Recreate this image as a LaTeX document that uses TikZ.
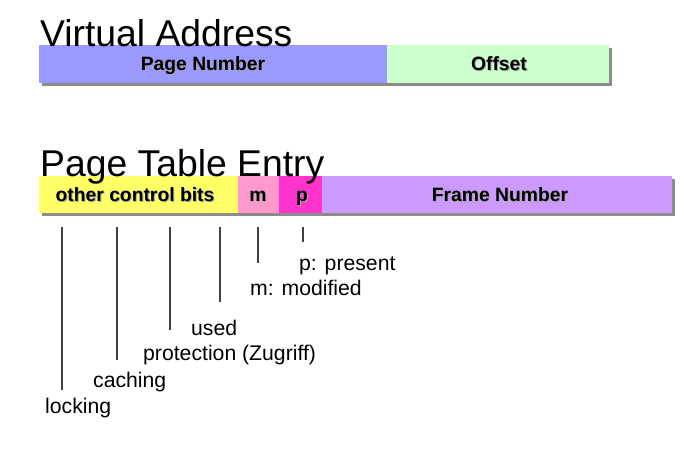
\documentclass[tikz,border=0pt]{standalone}
\usepackage{fontspec}
\setmainfont{Liberation Sans}
\definecolor{vablue}{RGB}{153,153,255}
\definecolor{vagreen}{RGB}{204,255,204}
\definecolor{pteyellow}{RGB}{255,255,102}
\definecolor{ptepink}{RGB}{255,153,204}
\definecolor{ptemag}{RGB}{255,51,204}
\definecolor{ptepurple}{RGB}{204,153,255}
\definecolor{shadowgray}{RGB}{140,140,140}
\begin{document}
\begin{tikzpicture}[x=1pt,y=-1pt,
  fieldtext/.style={font=\fontsize{19.3}{19.3}\selectfont\bfseries, inner sep=0pt, anchor=base},
  fieldshadow/.style={font=\fontsize{19.3}{19.3}\selectfont\bfseries, inner sep=0pt, anchor=base, text=black!35},
  title/.style={font=\fontsize{37.3}{37.3}\selectfont, inner sep=0pt, anchor=base west},
  lab/.style={font=\fontsize{21.2}{21.2}\selectfont, inner sep=0pt, anchor=base west},
  tick/.style={draw=black!75, line width=1.1pt}
]
\useasboundingbox (0,0) rectangle (684,449);
% Virtual address bar
\fill[shadowgray] (42,48) rectangle (612,86);
\fill[vablue] (39,45) rectangle (387,83);
\fill[vagreen] (387,45) rectangle (609,83);
\node[title] (vatitle) at (40,47) {Virtual Address};
\node[fieldshadow] at (204,72) {Page Number};
\node[fieldtext] (pn) at (203,71) {Page Number};
\node[fieldshadow] at (500,72) {Offset};
\node[fieldtext] (off) at (499,71) {Offset};
% Page table entry bar
\fill[shadowgray] (42,179) rectangle (675,216);
\fill[pteyellow] (39,176) rectangle (238,213);
\fill[ptepink] (238,176) rectangle (279,213);
\fill[ptemag] (279,176) rectangle (322,213);
\fill[ptepurple] (322,176) rectangle (672,213);
\node[title] (ptetitle) at (40,176) {Page Table Entry};
\node[fieldshadow] at (136,202) {other control bits};
\node[fieldtext] (ocb) at (135,201) {other control bits};
\node[fieldshadow] at (259,202) {m};
\node[fieldtext] (mb) at (258,201) {m};
\node[fieldshadow] at (303,202) {p};
\node[fieldtext] (pb) at (302,201) {p};
\node[fieldshadow] at (501,202) {Frame Number};
\node[fieldtext] (fn) at (500,201) {Frame Number};
% ticks
\coordinate (t1a) at (62,227); \coordinate (t1b) at (62,390);
\coordinate (t2a) at (117,227); \coordinate (t2b) at (117,360);
\coordinate (t3a) at (170,227); \coordinate (t3b) at (170,330);
\coordinate (t4a) at (220,227); \coordinate (t4b) at (220,302);
\coordinate (t5a) at (258,227); \coordinate (t5b) at (258,263);
\coordinate (t6a) at (303,227); \coordinate (t6b) at (303,242);
\draw[tick] (t1a) -- (t1b);
\draw[tick] (t2a) -- (t2b);
\draw[tick] (t3a) -- (t3b);
\draw[tick] (t4a) -- (t4b);
\draw[tick] (t5a) -- (t5b);
\draw[tick] (t6a) -- (t6b);
% labels
\node[lab] (lp) at (299,270) {p: present};
\node[lab] (lm) at (250,295) {m: modified};
\node[lab] (lu) at (191,335) {used};
\node[lab] (lpr) at (143,360) {protection (Zugriff)};
\node[lab] (lc) at (93,387) {caching};
\node[lab] (ll) at (45,413) {locking};
\end{tikzpicture}
\end{document}
